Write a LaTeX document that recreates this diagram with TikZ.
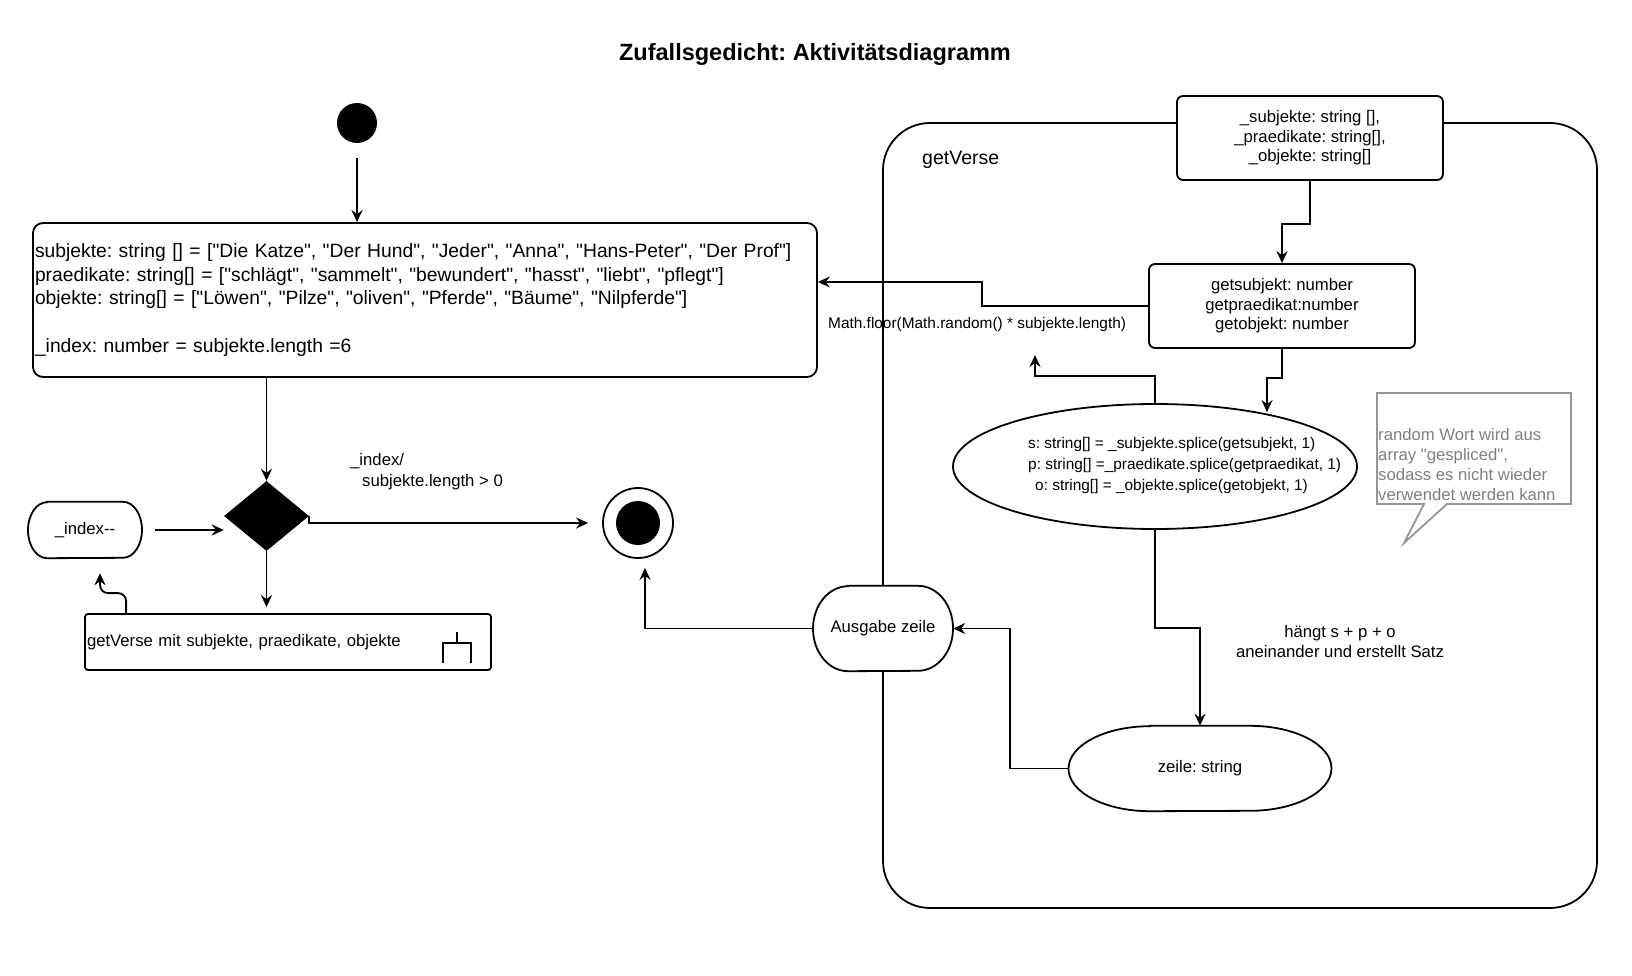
\documentclass[tikz,border=0pt]{standalone}
\usepackage{fontspec}
\setmainfont{Liberation Sans}[Ligatures=TeXOff]
\usetikzlibrary{arrows.meta,shapes.geometric,calc}
\pgfdeclarelayer{back}
\pgfdeclarelayer{mid}
\pgfsetlayers{back,mid,main}
\definecolor{notegray}{RGB}{150,150,150}
\definecolor{notetext}{RGB}{128,128,128}
\frenchspacing
% node, half flat length, x radius, y radius
\newcommand\stadiumshape[4]{%
  \draw[line width=1.8pt,fill=white] ([xshift=-#2]#1.north) -- ([xshift=#2]#1.north)
    arc[start angle=90,end angle=-90,x radius=#3,y radius=#4]
    -- ([xshift=-#2]#1.south)
    arc[start angle=270,end angle=90,x radius=#3,y radius=#4] -- cycle;}
\begin{document}
\begin{tikzpicture}[x=1pt,y=-1pt,
  every node/.style={font=\fontsize{16.7}{20}\selectfont, inner sep=0pt},
  ln/.style={line width=1.8pt},
  arr/.style={line width=1.8pt, -{Stealth[length=12pt,width=11pt,inset=4pt]}},
  box/.style={draw, line width=1.8pt, fill=white, rounded corners=6pt, align=center, font=\fontsize{16.7}{19.5}\selectfont}]
\useasboundingbox (0,0) rectangle (1632,976);

% frame of the activity getVerse
\begin{pgfonlayer}{back}
\node[draw, line width=1.8pt, rounded corners=47pt, minimum width=714pt, minimum height=785pt] (frame) at (1240,515.5) {};
\end{pgfonlayer}
\node[anchor=west, font=\fontsize{19.5}{23}\selectfont] (framelbl) at (922,160) {getVerse};

% title
\node[font=\bfseries\fontsize{23.5}{28}\selectfont] (title) at (815,54) {Zufallsgedicht: Aktivitätsdiagramm};

% left part
\node[circle, fill=black, minimum size=40pt] (start) at (357,123) {};
\node[box, rounded corners=10pt, minimum width=784pt, minimum height=154pt, text width=780pt, align=left, font=\fontsize{19.3}{23.7}\selectfont] (main) at (425,300)
 {subjekte: string [] = ["Die Katze", "Der Hund", "Jeder", "Anna", "Hans-Peter", "Der Prof"]\\
  praedikate: string[] = ["schlägt", "sammelt", "bewundert", "hasst", "liebt", "pflegt"]\\
  objekte: string[] = ["Löwen", "Pilze", "oliven", "Pferde", "Bäume", "Nilpferde"]\\[23.7pt]
  \_index: number = subjekte.length =6};
\node[diamond, fill=black, minimum width=85pt, minimum height=70pt] (dia) at (266.5,516) {};
\node[anchor=base west, align=left, font=\fontsize{16.7}{21}\selectfont] (guard) at (350,486) {\_index/\\\hspace*{12pt}subjekte.length > 0};
\node[draw, line width=1.8pt, fill=white, circle, minimum size=70pt] (final) at (638,523) {};
\fill (final.center) circle[radius=22pt];
\node[minimum width=114pt, minimum height=56pt] (idx) at (85,530) {\_index--};
\node[box, rounded corners=3pt, minimum width=406pt, minimum height=56pt, text width=402pt, align=left] (call) at (288,642) {getVerse mit subjekte, praedikate, objekte};
\draw[ln] ([shift={(-35,-10)}]call.east) -- ([shift={(-35,1)}]call.east)
  ([shift={(-49,21)}]call.east) -- ([shift={(-49,1)}]call.east) -- ([shift={(-21,1)}]call.east) -- ([shift={(-21,21)}]call.east);

% right part
\node[box, minimum width=266pt, minimum height=84pt] (params) at (1310,138) {\_subjekte: string [],\\\_praedikate: string[],\\\_objekte: string[]};
\node[box, minimum width=266pt, minimum height=84pt] (getsub) at (1282,306) {getsubjekt: number\\getpraedikat:number\\getobjekt: number};
\node[anchor=west, font=\fontsize{15.4}{18}\selectfont] (mathlbl) at (828,325) {Math.floor(Math.random() * subjekte.length)};
\coordinate (mtip) at (1035,355);
\node[ellipse, draw, line width=1.8pt, minimum width=404pt, minimum height=125pt] (ell) at (1155,466.5) {};
\node[align=left, anchor=west, font=\fontsize{15.4}{21}\selectfont] (ellt) at (1028,466)
 {s: string[] = \_subjekte.splice(getsubjekt, 1)\\p: string[] =\_praedikate.splice(getpraedikat, 1)\\\hspace*{7pt}o: string[] = \_objekte.splice(getobjekt, 1)};
\node[minimum width=263pt, minimum height=85pt] (zeile) at (1200,768.5) {zeile: string};
\node[minimum width=140pt, minimum height=85pt] (aus) at (883,628.5) {Ausgabe zeile};
\node[align=center] (haengt) at (1340,642) {hängt s + p + o\\aneinander und erstellt Satz};
\node[anchor=west, align=left, text=notetext, font=\fontsize{16.7}{19.7}\selectfont] (note) at (1378,464.5)
 {random Wort wird aus\\array "gespliced",\\sodass es nicht wieder\\verwendet werden kann};
\draw[draw=notegray, line width=1.8pt] (1377,393) -- (1571,393) -- (1571,504) -- (1447,504) -- (1404,543) -- (1424,504) -- (1377,504) -- cycle;

\begin{pgfonlayer}{mid}
\stadiumshape{idx}{38pt}{19pt}{28pt}
\stadiumshape{aus}{35pt}{35pt}{42.5pt}
\stadiumshape{zeile}{50pt}{81.5pt}{42.5pt}
\end{pgfonlayer}

% connectors
\draw[arr, shorten <=15pt] (start.south) -- (start.south |- main.north);
\draw[arr] (main.south -| dia.north) -- (dia.north);
\draw[arr, shorten >=14pt] (dia.east) |- (final.west);
\draw[arr, shorten >=6pt] (dia.south) -- (dia.south |- call.north);
\draw[arr, shorten <=13pt] (idx.east) -- (idx.east -| dia.west);
\draw[arr, rounded corners=8pt] ([xshift=42pt]call.north west) -- ++(0,-20) -| ([shift={(15pt,-15pt)}]idx.south);
\draw[arr] (params.south) -- ++(0,43) -| (getsub.north);
\draw[arr] (getsub.west) -- ++(-166,0) |- ([yshift=18pt]main.east);
\draw[arr] (getsub.south) -- ++(0,29) -| ([shift={(112pt,-9pt)}]ell.north);
\draw[arr] (ell.north) -- ++(0,-27) -| (mtip);
\draw[arr] (ell.south) -- ++(0,98) -| (zeile.north);
\draw[arr] (zeile.west) -- ++(-58,0) |- (aus.east);
\draw[arr] (aus.west) -| ([shift={(7pt,-9pt)}]final.south);
\end{tikzpicture}
\end{document}
